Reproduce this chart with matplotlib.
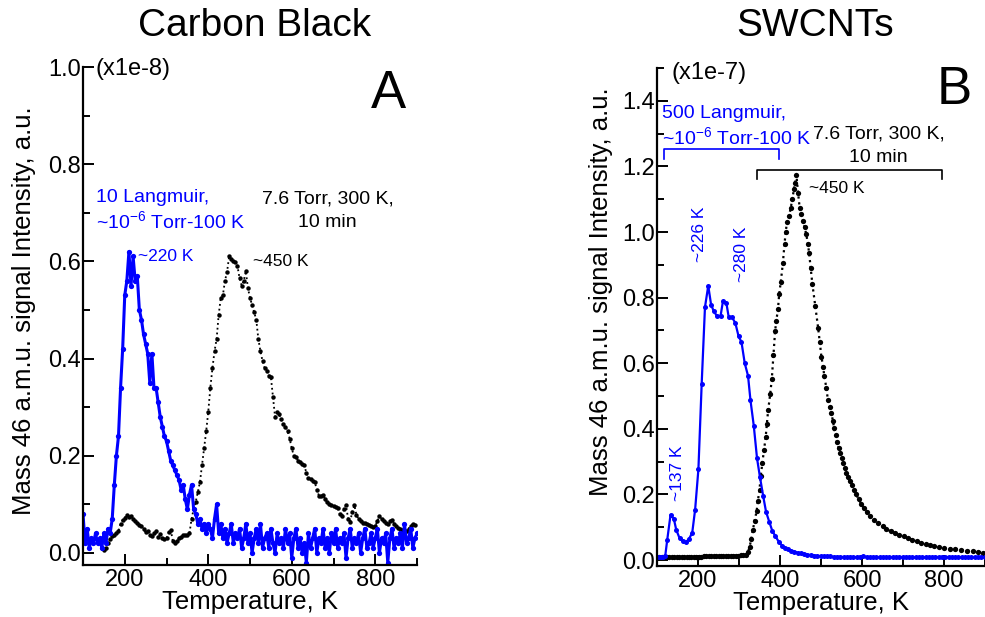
import numpy as np
import matplotlib
matplotlib.use("Agg")
import matplotlib.pyplot as plt

plt.rcParams["font.family"] = ["Liberation Sans", "DejaVu Sans"]
plt.rcParams["mathtext.fontset"] = "custom"
plt.rcParams["mathtext.rm"] = "Liberation Sans"
plt.rcParams["mathtext.it"] = "Liberation Sans:italic"
plt.rcParams["mathtext.bf"] = "Liberation Sans:bold"

BLUE = "#0000ff"

# --- panel A: carbon black ---
a_blue_t = np.arange(100, 901, 5)
a_blue_v = [
    0.08, 0.02, 0.05, 0.01, 0.03, 0.02, 0.04, 0.02, 0.03, 0.01,
    0.04, 0.02, 0.05, 0.04, 0.07, 0.14, 0.20, 0.24, 0.34, 0.42,
    0.53, 0.56, 0.62, 0.55, 0.61, 0.56, 0.57, 0.50, 0.48, 0.45,
    0.43, 0.41, 0.35, 0.41, 0.34, 0.34, 0.31, 0.28, 0.26, 0.24,
    0.23, 0.21, 0.19, 0.18, 0.17, 0.16, 0.15, 0.13, 0.14, 0.11,
    0.09, 0.12, 0.14, 0.09, 0.08, 0.06, 0.07, 0.05, 0.06, 0.04,
    0.06, 0.05, 0.03, 0.07, 0.10, 0.04, 0.06, 0.03, 0.05, 0.02,
    0.04, 0.06, 0.02, 0.04, 0.03, 0.05, 0.01, 0.03, 0.06, 0.02,
    0.04, 0.00, 0.03, 0.05, 0.02, 0.06, 0.01, 0.03, 0.04, 0.01,
    0.05, 0.02, 0.00, 0.04, 0.02, 0.03, 0.01, 0.05, 0.02, 0.04,
    -0.01, 0.03, 0.05, 0.01, 0.03, 0.00, 0.02, -0.02, 0.04, 0.01,
    0.03, 0.05, 0.00, 0.03, 0.02, 0.05, 0.01, 0.03, 0.00, 0.04,
    0.02, 0.05, 0.01, 0.03, 0.02, 0.04, -0.01, 0.03, 0.05, 0.01,
    0.03, 0.02, 0.04, 0.00, 0.03, 0.05, 0.01, 0.02, 0.04, 0.01,
    0.03, 0.05, 0.00, 0.03, 0.02, 0.04, -0.02, 0.03, 0.05, 0.01,
    0.03, 0.02, 0.04, 0.01, 0.06, 0.02, 0.03, 0.05, 0.01, 0.03,
    0.04,
]

a_black_t = np.arange(145, 896, 5)
a_black_v = [
    0.010, 0.005, 0.010, 0.020, 0.028, 0.035, 0.037, 0.040, 0.045, 0.060,
    0.068, 0.072, 0.078, 0.074, 0.076, 0.070, 0.065, 0.062, 0.058, 0.055,
    0.050, 0.042, 0.045, 0.036, 0.034, 0.040, 0.045, 0.032, 0.038, 0.030,
    0.028, 0.030, 0.042, 0.048, 0.025, 0.020, 0.025, 0.030, 0.032, 0.036,
    0.037, 0.036, 0.040, 0.070, 0.090, 0.105, 0.125, 0.145, 0.180, 0.215,
    0.250, 0.290, 0.340, 0.380, 0.415, 0.440, 0.490, 0.525, 0.530, 0.560,
    0.578, 0.610, 0.605, 0.600, 0.598, 0.590, 0.565, 0.550, 0.560, 0.580,
    0.545, 0.525, 0.510, 0.495, 0.480, 0.440, 0.415, 0.395, 0.380, 0.375,
    0.365, 0.362, 0.320, 0.280, 0.290, 0.285, 0.275, 0.265, 0.260, 0.250,
    0.235, 0.215, 0.200, 0.198, 0.190, 0.188, 0.183, 0.180, 0.165, 0.155,
    0.152, 0.148, 0.146, 0.130, 0.118, 0.116, 0.120, 0.110, 0.104, 0.100,
    0.098, 0.097, 0.095, 0.092, 0.080, 0.075, 0.090, 0.098, 0.070, 0.064,
    0.085, 0.098, 0.078, 0.070, 0.065, 0.062, 0.061, 0.060, 0.058, 0.055,
    0.053, 0.055, 0.065, 0.075, 0.070, 0.065, 0.062, 0.060, 0.065, 0.068,
    0.060, 0.055, 0.052, 0.050, 0.048, 0.047, 0.045, 0.050, 0.055, 0.060,
    0.058,
]

# --- panel B: SWCNTs ---
b_blue_t = [
    100, 105, 110, 115, 120, 125, 133, 141, 147, 155, 163, 170, 178, 186,
    193, 201, 209, 217, 225, 232, 238, 246, 255, 261, 269, 275, 283, 291,
    299, 306, 314, 322, 328, 336, 344, 351, 359, 366, 374, 381, 389, 397,
    405, 412, 419, 427, 435, 443, 451, 459, 467, 475, 483, 491, 499, 507,
    515, 523, 531, 539, 547, 555, 563, 571, 579, 587, 595, 603, 611, 619,
    627, 635, 643, 651, 659, 667, 675, 683, 691, 699, 707, 715, 723, 731,
    739, 747, 755, 763, 771, 779, 787, 795, 803, 811, 819, 827, 835, 843,
    851, 859, 867, 875, 883, 891, 899,
]
b_blue_v = [
    0.010, 0.010, 0.010, 0.010, 0.012, 0.062, 0.138, 0.126, 0.092, 0.067,
    0.057, 0.054, 0.064, 0.084, 0.154, 0.277, 0.538, 0.771, 0.836, 0.778,
    0.760, 0.744, 0.744, 0.790, 0.785, 0.740, 0.740, 0.723, 0.682, 0.665,
    0.600, 0.562, 0.487, 0.410, 0.310, 0.254, 0.195, 0.147, 0.116, 0.090,
    0.072, 0.056, 0.044, 0.038, 0.033, 0.029, 0.026, 0.023, 0.021, 0.019,
    0.017, 0.015, 0.014, 0.013, 0.012, 0.012, 0.011, 0.011, 0.010, 0.010,
    0.010, 0.009, 0.009, 0.010, 0.009, 0.009, 0.010, 0.011, 0.010, 0.009,
    0.009, 0.008, 0.009, 0.008, 0.008, 0.009, 0.008, 0.008, 0.009, 0.008,
    0.008, 0.009, 0.008, 0.008, 0.008, 0.009, 0.008, 0.008, 0.009, 0.010,
    0.009, 0.008, 0.008, 0.009, 0.008, 0.008, 0.009, 0.008, 0.008, 0.009,
    0.008, 0.008, 0.009, 0.008, 0.008,
]

b_black_t = [
    100, 106, 112, 118, 124, 130, 136, 142, 148, 154, 160, 166, 172, 178,
    184, 190, 196, 202, 208, 214, 220, 226, 232, 238, 244, 250, 256, 262,
    268, 274, 280, 286, 292, 298, 304, 310, 316, 322, 326, 330, 334, 338,
    343, 346, 350, 353, 357, 361, 365, 368, 371, 376, 380, 384, 388, 391,
    395, 398, 402, 407, 411, 414, 417, 422, 426, 430, 434, 437, 440, 444,
    448, 452, 456, 460, 464, 468, 471, 475, 479, 486, 493, 497, 501, 505,
    508, 513, 517, 521, 525, 529, 532, 536, 539, 543, 547, 551, 554, 558,
    562, 566, 570, 575, 580, 586, 592, 598, 604, 612, 620, 630, 640, 650,
    659, 670, 680, 691, 702, 712, 723, 734, 745, 755, 766, 776, 787, 800,
    814, 828, 842, 856, 870, 883, 896,
]
b_black_v = [
    0.008, 0.008, 0.008, 0.008, 0.008, 0.008, 0.008, 0.009, 0.009, 0.009,
    0.009, 0.009, 0.009, 0.010, 0.010, 0.010, 0.010, 0.010, 0.010, 0.011,
    0.011, 0.011, 0.011, 0.012, 0.012, 0.012, 0.012, 0.013, 0.013, 0.013,
    0.013, 0.014, 0.014, 0.014, 0.015, 0.015, 0.016, 0.025, 0.041, 0.065,
    0.092, 0.120, 0.149, 0.180, 0.215, 0.255, 0.297, 0.335, 0.374, 0.415,
    0.456, 0.505, 0.552, 0.625, 0.697, 0.730, 0.764, 0.810, 0.849, 0.905,
    0.964, 1.000, 1.031, 1.050, 1.072, 1.100, 1.130, 1.150, 1.174, 1.120,
    1.074, 1.055, 1.034, 1.015, 0.993, 0.965, 0.936, 0.890, 0.841, 0.775,
    0.708, 0.665, 0.620, 0.590, 0.562, 0.525, 0.487, 0.468, 0.449, 0.425,
    0.402, 0.380, 0.359, 0.342, 0.326, 0.311, 0.297, 0.282, 0.267, 0.254,
    0.241, 0.228, 0.215, 0.200, 0.185, 0.172, 0.159, 0.146, 0.133, 0.123,
    0.113, 0.103, 0.094, 0.088, 0.083, 0.077, 0.072, 0.067, 0.062, 0.057,
    0.053, 0.048, 0.045, 0.042, 0.039, 0.037, 0.035, 0.033, 0.031, 0.029,
    0.027, 0.026, 0.022,
]

x_major = [200, 400, 600, 800]


def style_axes(ax, ylim, ymajor, yminor):
    ax.set_xlim(100, 900)
    ax.set_ylim(*ylim)
    for side in ("top", "right"):
        ax.spines[side].set_visible(False)
    for side in ("left", "bottom"):
        ax.spines[side].set_linewidth(1.6)
    ax.set_xticks(x_major)
    ax.set_xticks([300, 500, 700, 900], minor=True)
    ax.set_yticks(ymajor)
    ax.set_yticks(yminor, minor=True)
    ax.set_yticklabels([f"{v:.1f}" for v in ymajor])
    ax.tick_params(which="both", direction="in", width=1.4, labelsize=17)
    ax.tick_params(which="major", length=8)
    ax.tick_params(which="minor", length=5)
    ax.tick_params(axis="y", pad=1.5)
    ax.tick_params(axis="x", pad=3)
    ax.set_xlabel("Temperature, K", fontsize=18.5, labelpad=-1)
    ax.set_ylabel("Mass 46 a.m.u. signal Intensity, a.u.", fontsize=18.5)


fig = plt.figure(figsize=(9.85, 6.17), dpi=100)

# panel A
axA = fig.add_axes([83 / 985, 1 - 565 / 617, 334 / 985, 498 / 617])
axA.plot(a_black_t, a_black_v, color="black", ls=":", lw=1.3,
         marker="o", ms=3.2, mew=0)
axA.plot(a_blue_t, a_blue_v, color=BLUE, lw=2.2, marker="o", ms=3.8, mew=0)
style_axes(axA, (-0.025, 1.0), [0.0, 0.2, 0.4, 0.6, 0.8, 1.0],
           [0.1, 0.3, 0.5, 0.7, 0.9])
axA.yaxis.set_label_coords(-0.14, 0.51)

axA.text(131, 0.983, "(x1e-8)", fontsize=17, clip_on=False)
axA.text(832, 0.916, "A", fontsize=38, ha="center")
axA.text(131, 0.723, "10 Langmuir,", color=BLUE, fontsize=14)
axA.text(131, 0.668, r"~10$^{-6}$ Torr-100 K", color=BLUE, fontsize=14)
axA.text(686, 0.72, "7.6 Torr, 300 K,", fontsize=14, ha="center")
axA.text(686, 0.671, "10 min", fontsize=14, ha="center")
axA.text(232, 0.60, "~220 K", color=BLUE, fontsize=12.5)
axA.text(508, 0.59, "~450 K", fontsize=12.5)

# panel B
axB = fig.add_axes([657 / 985, 1 - 566 / 617, 328 / 985, 498 / 617])
axB.plot(b_black_t, b_black_v, color="black", ls=":", lw=1.6,
         marker="o", ms=3.8, mew=0)
axB.plot(b_blue_t, b_blue_v, color=BLUE, lw=1.6, marker="o", ms=3.6, mew=0)
style_axes(axB, (-0.018, 1.5), [0.0, 0.2, 0.4, 0.6, 0.8, 1.0, 1.2, 1.4],
           [0.1, 0.3, 0.5, 0.7, 0.9, 1.1, 1.3, 1.5])
axB.yaxis.set_label_coords(-0.133, 0.55)

axB.text(135, 1.465, "(x1e-7)", fontsize=17, clip_on=False)
axB.text(825, 1.39, "B", fontsize=38, ha="center")
axB.text(111, 1.349, "500 Langmuir,", color=BLUE, fontsize=14)
axB.text(111, 1.267, r"~10$^{-6}$ Torr-100 K", color=BLUE, fontsize=14)
axB.plot([117, 117, 398, 398], [1.222, 1.252, 1.252, 1.222],
         color=BLUE, lw=1.2)
axB.text(640, 1.284, "7.6 Torr, 300 K,", fontsize=14, ha="center")
axB.text(640, 1.212, "10 min", fontsize=14, ha="center")
axB.plot([345, 345, 794, 794], [1.163, 1.188, 1.188, 1.163],
         color="black", lw=1.2)
axB.text(470, 1.118, "~450 K", fontsize=12.5)
axB.text(203, 0.994, "~226 K", color=BLUE, fontsize=12.5, rotation=90,
         ha="center", va="center")
axB.text(306, 0.933, "~280 K", color=BLUE, fontsize=12.5, rotation=90,
         ha="center", va="center")
axB.text(151, 0.264, "~137 K", color=BLUE, fontsize=12.5, rotation=90,
         ha="center", va="center")

fig.text(255 / 985, 1 - 26 / 617, "Carbon Black", fontsize=28,
         ha="center", va="center")
fig.text(815 / 985, 1 - 26 / 617, "SWCNTs", fontsize=28,
         ha="center", va="center")

fig.savefig("out.png", dpi=100)
